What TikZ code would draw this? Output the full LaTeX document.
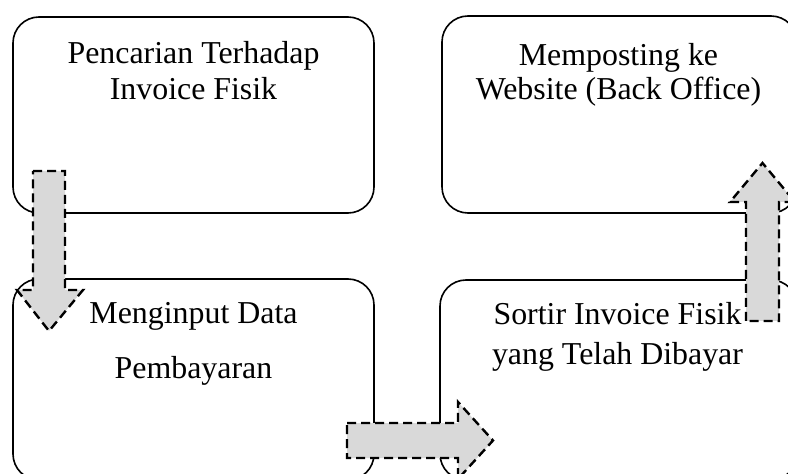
\documentclass[tikz,border=0pt]{standalone}
\usepackage{fontspec}
\setmainfont{Liberation Serif}
\usetikzlibrary{positioning}

\begin{document}
\begin{tikzpicture}[x=1bp,y=-1bp]
   \tikzset{box/.style={draw=black, line width=1.6bp, rounded corners=26bp, inner sep=0pt},
            txt/.style={align=center, inner sep=0pt, font=\fontsize{32}{36}\selectfont},
            blok/.style={draw=black, fill=black!15, line width=2.4bp, dash pattern=on 9bp off 5bp}};

\useasboundingbox (0,0) rectangle (788,474);
\clip (0,0) rectangle (788,474);

\node[box, minimum width=361bp, minimum height=196bp] (cari) at (193.5,115) {};
\node[box, minimum width=355bp, minimum height=197bp] (posting) at (619.5,114.5) {};
\node[box, minimum width=361bp, minimum height=201bp] (input) at (193.5,379.5) {};
\node[box, minimum width=357bp, minimum height=200bp] (sortir) at (618.5,380) {};

\node[txt, below=25bp of cari.north] (tcari) {Pencarian Terhadap\\Invoice Fisik};
\node[txt, below=28bp of posting.north, xshift=-1bp] (tposting) {Memposting ke\\[-2bp]Website (Back Office)};
\node[txt, below=24bp of input.north] (tinput) {Menginput Data\\[19bp]Pembayaran};
\node[txt, below=23bp of sortir.north, xshift=-1bp] (tsortir) {Sortir Invoice Fisik\\[4bp]yang Telah Dibayar};

%panah---------------------

\draw[blok] (33,171) -- (65,171) -- (65,290) -- (83,290) -- (49,331) -- (17,290) -- (33,290) -- cycle;
\draw[blok] (347,423) -- (458,423) -- (458,402) -- (493,440.5) -- (458,479) -- (458,458) -- (347,458) -- cycle;
\draw[blok] (746,321) -- (746,202) -- (730,202) -- (762.5,163) -- (795,202) -- (779,202) -- (779,321) -- cycle;

\end{tikzpicture}
\end{document}
